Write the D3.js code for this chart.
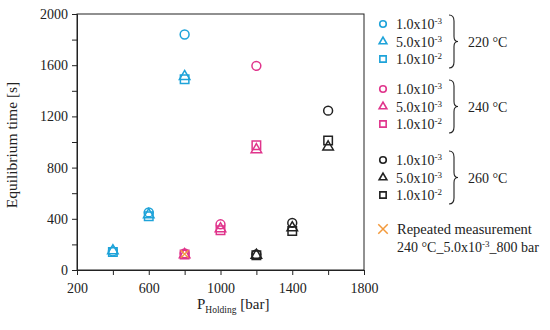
<!DOCTYPE html>
<html>
<head>
<meta charset="utf-8">
<script src="https://cdn.jsdelivr.net/npm/d3@7"></script>
<style>
  body { margin: 0; background: #fff; }
  text { font-family: "Liberation Serif", "DejaVu Serif", serif; fill: #222; }
</style>
</head>
<body>
<figure style="margin:0"></figure>
<script>
// values
const xTicks = [200, 600, 1000, 1400, 1800];
const yTicks = [0, 400, 800, 1200, 1600, 2000];

const press220 = [400, 600, 800];
const circ220 = [145, 450, 1840];
const tri220 = [150, 432, 1512];
const sq220 = [140, 420, 1490];

const press240 = [800, 1000, 1200];
const circ240 = [130, 357, 1595];
const tri240 = [120, 322, 940];
const sq240 = [122, 310, 975];

const press260 = [1200, 1400, 1600];
const circ260 = [122, 368, 1245];
const tri260 = [115, 330, 962];
const sq260 = [115, 305, 1012];

const pressRepeat = [800];
const timeRepeat = [125];

const temps = ['220 °C', '240 °C', '260 °C'];
const rates = [['1.0x10', '-3'], ['5.0x10', '-3'], ['1.0x10', '-2']];
const colors = ['#1ea3d9', '#e0358c', '#222222'];
const orange = '#f39a3c';

(() => {
  const totalWidth = 550;
  const totalHeight = 330;
  const margin = {top: 14, right: 186, bottom: 60, left: 77};
  const graphWidth = totalWidth - margin.left - margin.right;
  const graphHeight = totalHeight - margin.top - margin.bottom;

  const svg = d3.select('figure').append('svg')
    .attr('width', totalWidth)
    .attr('height', totalHeight);

  const g = svg.append('g')
    .attr('transform', `translate(${margin.left}, ${margin.top})`);

  const x = d3.scaleLinear().domain([200, 1800]).range([0, graphWidth]);
  const y = d3.scaleLinear().domain([0, 2000]).range([graphHeight, 0]);

  // frame
  g.append('rect')
    .attr('width', graphWidth).attr('height', graphHeight)
    .attr('fill', 'none').attr('stroke', '#222').attr('stroke-width', 1);

  const xAxis = d3.axisBottom(x).tickValues(d3.range(200, 1801, 200))
    .tickSize(5).tickFormat(d => xTicks.includes(d) ? d : '');
  const yAxis = d3.axisLeft(y).tickValues(d3.range(0, 2001, 200))
    .tickSize(5).tickFormat(d => yTicks.includes(d) ? d : '');

  const xg = g.append('g').attr('transform', `translate(0, ${graphHeight})`).call(xAxis);
  const yg = g.append('g').call(yAxis);
  [xg, yg].forEach(a => {
    a.select('.domain').attr('stroke', '#222');
    a.selectAll('.tick line').attr('stroke', '#222');
    a.selectAll('.tick text').attr('font-size', 14)
      .attr('font-family', '"Liberation Serif", serif').attr('fill', '#222');
  });
  xg.selectAll('.tick text').attr('dy', '1.1em');
  yg.selectAll('.tick text').attr('dx', '-1px');

  // axis titles
  svg.append('text')
    .attr('transform', `translate(17, ${margin.top + graphHeight / 2 + 3}) rotate(-90)`)
    .attr('text-anchor', 'middle').attr('font-size', 15.5)
    .text('Equilibrium time [s]');

  const xt = svg.append('text')
    .attr('x', 197).attr('y', 309)
    .attr('font-size', 15);
  xt.append('tspan').text('P');
  xt.append('tspan').attr('font-size', 9.5).attr('dy', 4).text('Holding');
  xt.append('tspan').attr('dy', -4).text(' [bar]');

  const shapes = [d3.symbolCircle, d3.symbolTriangle, d3.symbolSquare];
  const sizes = [62, 48, 72];

  const groups = [
    [press220, [circ220, tri220, sq220]],
    [press240, [circ240, tri240, sq240]],
    [press260, [circ260, tri260, sq260]]
  ];

  groups.forEach(([press, series], gi) => {
    series.forEach((vals, si) => {
      g.append('g').selectAll('path')
        .data(vals.map((v, i) => [press[i], v]))
        .join('path')
        .attr('transform', d => `translate(${x(d[0])}, ${y(d[1])})`)
        .attr('d', d3.symbol().type(shapes[si]).size(sizes[si]))
        .attr('fill', 'none')
        .attr('stroke', colors[gi])
        .attr('stroke-width', 1.5);
    });
  });

  // repeated measurement
  g.append('g').selectAll('path')
    .data(pressRepeat.map((p, i) => [p, timeRepeat[i]]))
    .join('path')
    .attr('transform', d => `translate(${x(d[0])}, ${y(d[1])})`)
    .attr('d', d3.symbol().type(d3.symbolTimes).size(40))
    .attr('fill', 'none').attr('stroke', orange).attr('stroke-width', 1.3);

  // legend
  const leg = svg.append('g');
  const groupTop = [24, 89, 160];
  const rowGap = 17.5;
  temps.forEach((t, gi) => {
    const y0 = groupTop[gi];
    rates.forEach((r, ri) => {
      const yy = y0 + ri * rowGap;
      leg.append('path')
        .attr('transform', `translate(383, ${yy})`)
        .attr('d', d3.symbol().type(shapes[ri]).size([34, 26, 40][ri]))
        .attr('fill', 'none').attr('stroke', colors[gi]).attr('stroke-width', 1.6);
      const tx = leg.append('text').attr('x', 396).attr('y', yy + 5).attr('font-size', 14);
      tx.append('tspan').text(r[0]);
      tx.append('tspan').attr('font-size', 9).attr('dy', -5).text(r[1]);
    });
    // brace
    const top = y0 - 9, bot = y0 + 2 * rowGap + 9, mid = (top + bot) / 2;
    const bx = 449;
    leg.append('path')
      .attr('d', `M${bx},${top} Q${bx + 5},${top} ${bx + 5},${top + 6} L${bx + 5},${mid - 5} Q${bx + 5},${mid} ${bx + 9},${mid}` +
        ` Q${bx + 5},${mid} ${bx + 5},${mid + 5} L${bx + 5},${bot - 6} Q${bx + 5},${bot} ${bx},${bot}`)
      .attr('fill', 'none').attr('stroke', '#222').attr('stroke-width', 1.1);
    leg.append('text').attr('x', 468).attr('y', mid + 5).attr('font-size', 14).text(t);
  });

  leg.append('path')
    .attr('transform', 'translate(383, 229)')
    .attr('d', d3.symbol().type(d3.symbolTimes).size(60))
    .attr('fill', 'none').attr('stroke', orange).attr('stroke-width', 1.5);
  leg.append('text').attr('x', 397).attr('y', 234).attr('font-size', 14.5).text('Repeated measurement');
  const rt = leg.append('text').attr('x', 397).attr('y', 252).attr('font-size', 14);
  rt.append('tspan').text('240 °C_5.0x10');
  rt.append('tspan').attr('font-size', 9).attr('dy', -5).text('-3');
  rt.append('tspan').attr('dy', 5).text('_800 bar');
})();
</script>
</body>
</html>
